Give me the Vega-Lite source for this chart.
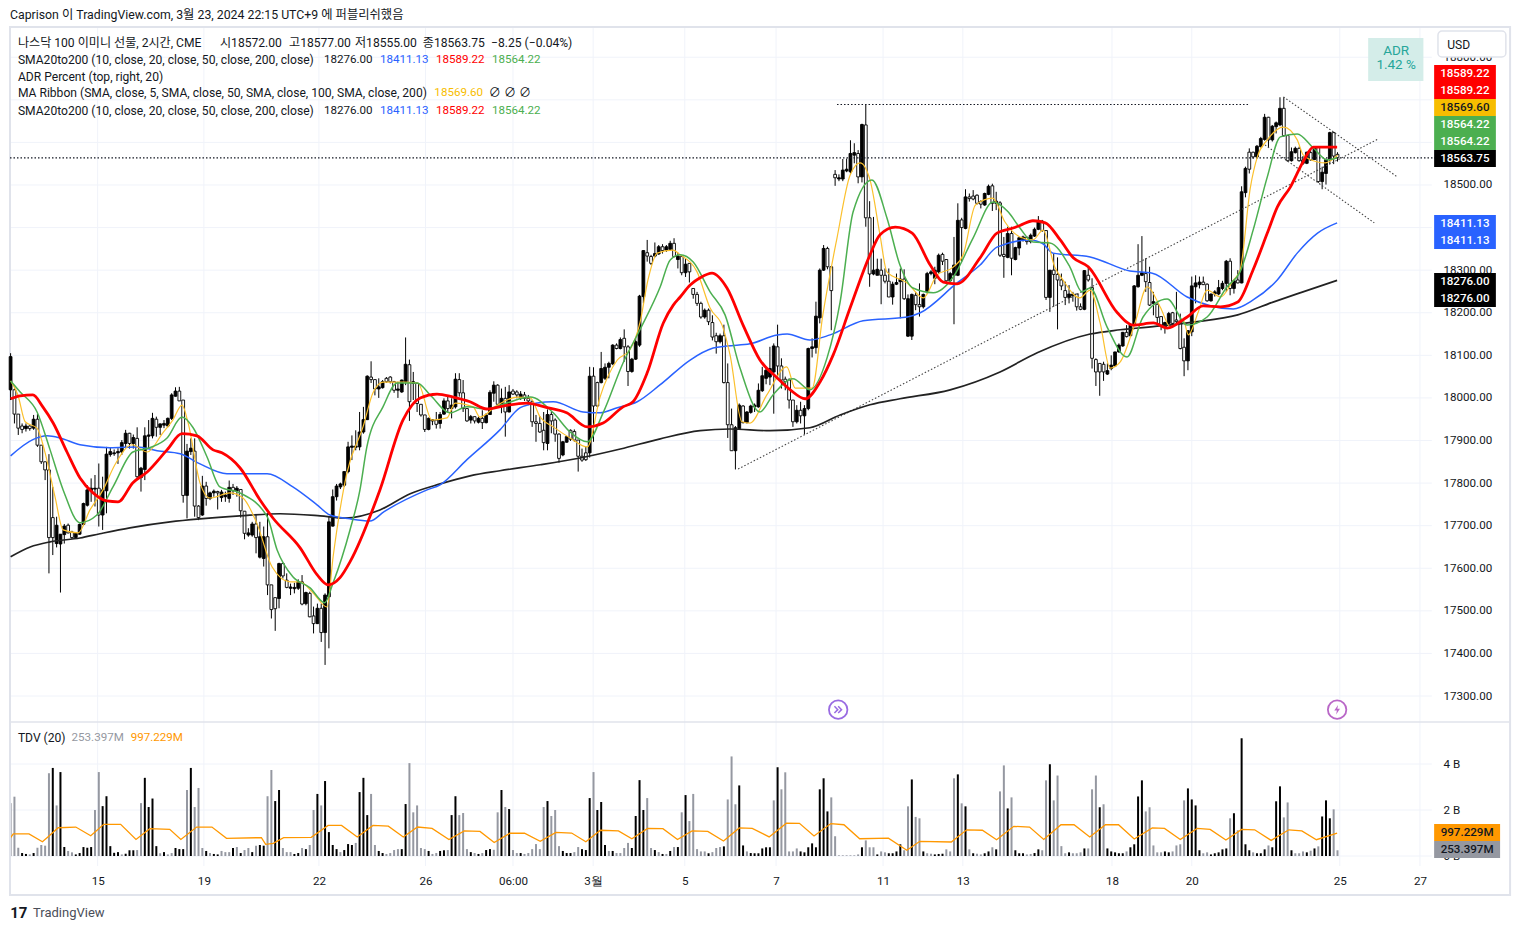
{"$schema":"https://vega.github.io/schema/vega-lite/v6.json","width":1520,"height":931,"autosize":{"type":"fit","contains":"padding"},"padding":0,"background":"#ffffff","config":{"view":{"stroke":null},"axis":{"title":null,"grid":false,"domain":false,"ticks":false}},
"datasets":{
"gridv":[{"n":22.7,"v":36,"v2":-0.435},{"n":50.4,"v":36,"v2":-0.435},{"n":80.4,"v":36,"v2":-0.435},{"n":108.2,"v":36,"v2":-0.435},{"n":131,"v":36,"v2":-0.435},{"n":151.9,"v":36,"v2":-0.435},{"n":175.8,"v":36,"v2":-0.435},{"n":199.6,"v":36,"v2":-0.435},{"n":227.5,"v":36,"v2":-0.435},{"n":248.3,"v":36,"v2":-0.435},{"n":287.2,"v":36,"v2":-0.435},{"n":308,"v":36,"v2":-0.435},{"n":346.6,"v":36,"v2":-0.435},{"n":367.5,"v":36,"v2":-0.435}],
"gridvol":[{"n":-0.16,"n2":370.6,"v":4},{"n":-0.16,"n2":370.6,"v":2},{"n":-0.16,"n2":370.6,"v":0}],
"gridp":[{"n":-0.16,"n2":370.6,"p":17300},{"n":-0.16,"n2":370.6,"p":17400},{"n":-0.16,"n2":370.6,"p":17500},{"n":-0.16,"n2":370.6,"p":17600},{"n":-0.16,"n2":370.6,"p":17700},{"n":-0.16,"n2":370.6,"p":17800},{"n":-0.16,"n2":370.6,"p":17900},{"n":-0.16,"n2":370.6,"p":18000},{"n":-0.16,"n2":370.6,"p":18100},{"n":-0.16,"n2":370.6,"p":18200},{"n":-0.16,"n2":370.6,"p":18300},{"n":-0.16,"n2":370.6,"p":18400},{"n":-0.16,"n2":370.6,"p":18500},{"n":-0.16,"n2":370.6,"p":18600},{"n":-0.16,"n2":370.6,"p":18700},{"n":-0.16,"n2":370.6,"p":18800}],
"vol":[{"n":0,"v":2.3,"u":0},{"n":1,"v":2.58,"u":0},{"n":2,"v":0.36,"u":0},{"n":3,"v":0.13,"u":1},{"n":4,"v":0.09,"u":1},{"n":5,"v":0.07,"u":0},{"n":6,"v":0.13,"u":1},{"n":7,"v":0.36,"u":0},{"n":8,"v":0.48,"u":0},{"n":9,"v":0.45,"u":0},{"n":10,"v":3.6,"u":0},{"n":11,"v":3.83,"u":1},{"n":12,"v":2.2,"u":0},{"n":13,"v":3.65,"u":1},{"n":14,"v":0.39,"u":1},{"n":15,"v":0.22,"u":0},{"n":16,"v":0.16,"u":0},{"n":17,"v":0.07,"u":1},{"n":18,"v":0.13,"u":1},{"n":19,"v":0.39,"u":1},{"n":20,"v":0.36,"u":1},{"n":21,"v":0.39,"u":1},{"n":22,"v":2,"u":0},{"n":23,"v":3.65,"u":0},{"n":24,"v":2.17,"u":1},{"n":25,"v":2.6,"u":1},{"n":26,"v":0.43,"u":1},{"n":27,"v":0.14,"u":1},{"n":28,"v":0.17,"u":1},{"n":29,"v":0.07,"u":0},{"n":30,"v":0.1,"u":1},{"n":31,"v":0.25,"u":1},{"n":32,"v":0.25,"u":1},{"n":33,"v":0.26,"u":0},{"n":34,"v":2.3,"u":0},{"n":35,"v":3.4,"u":1},{"n":36,"v":2.13,"u":1},{"n":37,"v":2.5,"u":1},{"n":38,"v":0.43,"u":1},{"n":39,"v":0.12,"u":0},{"n":40,"v":0.17,"u":1},{"n":41,"v":0.07,"u":0},{"n":42,"v":0.13,"u":0},{"n":43,"v":0.35,"u":1},{"n":44,"v":0.3,"u":1},{"n":45,"v":0.3,"u":1},{"n":46,"v":2.87,"u":0},{"n":47,"v":3.83,"u":1},{"n":48,"v":2.13,"u":0},{"n":49,"v":2.96,"u":0},{"n":50,"v":0.35,"u":0},{"n":51,"v":0.22,"u":1},{"n":52,"v":0.13,"u":0},{"n":53,"v":0.09,"u":1},{"n":54,"v":0.07,"u":1},{"n":55,"v":0.22,"u":0},{"n":56,"v":0.17,"u":0},{"n":57,"v":0.17,"u":0},{"n":58,"v":0.35,"u":1},{"n":59,"v":0.39,"u":0},{"n":60,"v":0.13,"u":1},{"n":61,"v":0.26,"u":0},{"n":62,"v":0.35,"u":0},{"n":63,"v":0.17,"u":1},{"n":64,"v":0.45,"u":0},{"n":65,"v":0.48,"u":1},{"n":66,"v":0.45,"u":1},{"n":67,"v":2.6,"u":0},{"n":68,"v":3.74,"u":0},{"n":69,"v":2.39,"u":1},{"n":70,"v":2.87,"u":1},{"n":71,"v":0.35,"u":0},{"n":72,"v":0.17,"u":0},{"n":73,"v":0.17,"u":0},{"n":74,"v":0.09,"u":1},{"n":75,"v":0.13,"u":1},{"n":76,"v":0.35,"u":0},{"n":77,"v":0.3,"u":1},{"n":78,"v":0.48,"u":0},{"n":79,"v":2,"u":0},{"n":80,"v":2.7,"u":1},{"n":81,"v":2.2,"u":0},{"n":82,"v":3.26,"u":1},{"n":83,"v":1.04,"u":1},{"n":84,"v":0.48,"u":1},{"n":85,"v":0.3,"u":1},{"n":86,"v":0.17,"u":0},{"n":87,"v":0.26,"u":1},{"n":88,"v":0.52,"u":1},{"n":89,"v":0.48,"u":1},{"n":90,"v":0.57,"u":0},{"n":91,"v":2.78,"u":1},{"n":92,"v":3.4,"u":1},{"n":93,"v":1.78,"u":1},{"n":94,"v":2.7,"u":0},{"n":95,"v":0.48,"u":0},{"n":96,"v":0.22,"u":1},{"n":97,"v":0.13,"u":1},{"n":98,"v":0.09,"u":0},{"n":99,"v":0.13,"u":0},{"n":100,"v":0.26,"u":0},{"n":101,"v":0.3,"u":0},{"n":102,"v":0.3,"u":1},{"n":103,"v":2.26,"u":1},{"n":104,"v":4.04,"u":0},{"n":105,"v":1.9,"u":0},{"n":106,"v":2.2,"u":0},{"n":107,"v":0.35,"u":0},{"n":108,"v":0.3,"u":0},{"n":109,"v":0.22,"u":1},{"n":110,"v":0.09,"u":0},{"n":111,"v":0.13,"u":0},{"n":112,"v":0.22,"u":1},{"n":113,"v":0.25,"u":1},{"n":114,"v":0.26,"u":0},{"n":115,"v":1.78,"u":1},{"n":116,"v":2.6,"u":1},{"n":117,"v":1.78,"u":0},{"n":118,"v":1.87,"u":0},{"n":119,"v":0.3,"u":0},{"n":120,"v":0.17,"u":1},{"n":121,"v":0.13,"u":0},{"n":122,"v":0.09,"u":1},{"n":123,"v":0.13,"u":0},{"n":124,"v":0.26,"u":1},{"n":125,"v":0.3,"u":1},{"n":126,"v":0.27,"u":0},{"n":127,"v":1.9,"u":0},{"n":128,"v":2.87,"u":1},{"n":129,"v":2.13,"u":0},{"n":130,"v":2.04,"u":1},{"n":131,"v":0.26,"u":0},{"n":132,"v":0.13,"u":0},{"n":133,"v":0.13,"u":1},{"n":134,"v":0.09,"u":0},{"n":135,"v":0.13,"u":0},{"n":136,"v":0.3,"u":0},{"n":137,"v":0.52,"u":0},{"n":138,"v":0.3,"u":0},{"n":139,"v":2.13,"u":0},{"n":140,"v":2.39,"u":1},{"n":141,"v":1.74,"u":0},{"n":142,"v":2,"u":0},{"n":143,"v":0.43,"u":0},{"n":144,"v":0.22,"u":1},{"n":145,"v":0.13,"u":1},{"n":146,"v":0.13,"u":1},{"n":147,"v":0.17,"u":0},{"n":148,"v":0.39,"u":0},{"n":149,"v":0.3,"u":1},{"n":150,"v":0.26,"u":1},{"n":151,"v":2.52,"u":1},{"n":152,"v":3.65,"u":0},{"n":153,"v":2,"u":1},{"n":154,"v":2.35,"u":1},{"n":155,"v":0.48,"u":1},{"n":156,"v":0.22,"u":0},{"n":157,"v":0.22,"u":1},{"n":158,"v":0.13,"u":0},{"n":159,"v":0.13,"u":0},{"n":160,"v":0.35,"u":0},{"n":161,"v":0.57,"u":0},{"n":162,"v":0.35,"u":1},{"n":163,"v":1.74,"u":1},{"n":164,"v":3.3,"u":1},{"n":165,"v":2,"u":1},{"n":166,"v":2.52,"u":0},{"n":167,"v":0.35,"u":0},{"n":168,"v":0.26,"u":1},{"n":169,"v":0.17,"u":0},{"n":170,"v":0.09,"u":1},{"n":171,"v":0.09,"u":0},{"n":172,"v":0.22,"u":1},{"n":173,"v":0.39,"u":0},{"n":174,"v":0.39,"u":1},{"n":175,"v":1.9,"u":0},{"n":176,"v":2.65,"u":1},{"n":177,"v":1.52,"u":0},{"n":178,"v":2.7,"u":0},{"n":179,"v":0.3,"u":0},
{"n":180,"v":0.2,"u":0},{"n":181,"v":0.2,"u":0},{"n":182,"v":0.12,"u":1},{"n":183,"v":0.17,"u":0},{"n":184,"v":0.35,"u":0},{"n":185,"v":0.39,"u":0},{"n":186,"v":0.42,"u":1},{"n":187,"v":2.46,"u":0},{"n":188,"v":4.33,"u":0},{"n":189,"v":2.25,"u":0},{"n":190,"v":3.07,"u":1},{"n":191,"v":0.46,"u":1},{"n":192,"v":0.2,"u":0},{"n":193,"v":0.13,"u":1},{"n":194,"v":0.12,"u":1},{"n":195,"v":0.12,"u":1},{"n":196,"v":0.33,"u":1},{"n":197,"v":0.38,"u":1},{"n":198,"v":0.38,"u":1},{"n":199,"v":2.42,"u":0},{"n":200,"v":3.86,"u":1},{"n":201,"v":2.9,"u":0},{"n":202,"v":3.64,"u":0},{"n":203,"v":0.2,"u":0},{"n":204,"v":0.2,"u":0},{"n":205,"v":0.33,"u":0},{"n":206,"v":0.2,"u":1},{"n":207,"v":0.16,"u":1},{"n":208,"v":0.38,"u":1},{"n":209,"v":0.55,"u":1},{"n":210,"v":0.38,"u":1},{"n":211,"v":2.9,"u":1},{"n":212,"v":3.38,"u":1},{"n":213,"v":1.94,"u":1},{"n":214,"v":2.55,"u":0},{"n":215,"v":0.86,"u":0},{"n":216,"v":0.03,"u":0},{"n":217,"v":0.03,"u":0},{"n":218,"v":0.03,"u":0},{"n":219,"v":0.03,"u":0},{"n":220,"v":0.03,"u":0},{"n":221,"v":0.07,"u":0},{"n":222,"v":0.38,"u":1},{"n":223,"v":0.68,"u":0},{"n":224,"v":0.38,"u":0},{"n":225,"v":0.38,"u":0},{"n":226,"v":0.07,"u":1},{"n":227,"v":0.2,"u":0},{"n":228,"v":0.16,"u":0},{"n":229,"v":0.12,"u":1},{"n":230,"v":0.12,"u":1},{"n":231,"v":0.2,"u":1},{"n":232,"v":0.51,"u":1},{"n":233,"v":0.25,"u":0},{"n":234,"v":2.16,"u":0},{"n":235,"v":3.33,"u":1},{"n":236,"v":1.7,"u":0},{"n":237,"v":1.64,"u":0},{"n":238,"v":0.2,"u":1},{"n":239,"v":0.12,"u":0},{"n":240,"v":0.1,"u":0},{"n":241,"v":0.07,"u":1},{"n":242,"v":0.09,"u":1},{"n":243,"v":0.1,"u":1},{"n":244,"v":0.29,"u":0},{"n":245,"v":0.2,"u":0},{"n":246,"v":3.38,"u":0},{"n":247,"v":3.55,"u":1},{"n":248,"v":2.29,"u":0},{"n":249,"v":2.16,"u":1},{"n":250,"v":0.29,"u":0},{"n":251,"v":0.12,"u":1},{"n":252,"v":0.1,"u":0},{"n":253,"v":0.07,"u":0},{"n":254,"v":0.12,"u":1},{"n":255,"v":0.2,"u":1},{"n":256,"v":0.38,"u":0},{"n":257,"v":0.29,"u":1},{"n":258,"v":2.81,"u":0},{"n":259,"v":3.94,"u":0},{"n":260,"v":2.07,"u":1},{"n":261,"v":2.55,"u":0},{"n":262,"v":0.25,"u":1},{"n":263,"v":0.12,"u":1},{"n":264,"v":0.12,"u":1},{"n":265,"v":0.07,"u":0},{"n":266,"v":0.09,"u":0},{"n":267,"v":0.13,"u":1},{"n":268,"v":0.29,"u":1},{"n":269,"v":0.25,"u":0},{"n":270,"v":3.29,"u":0},{"n":271,"v":3.99,"u":1},{"n":272,"v":2.42,"u":0},{"n":273,"v":3.5,"u":0},{"n":274,"v":0.43,"u":0},{"n":275,"v":0.12,"u":0},{"n":276,"v":0.16,"u":1},{"n":277,"v":0.12,"u":0},{"n":278,"v":0.12,"u":0},{"n":279,"v":0.16,"u":0},{"n":280,"v":0.33,"u":1},{"n":281,"v":0.33,"u":0},{"n":282,"v":2.9,"u":0},{"n":283,"v":3.5,"u":0},{"n":284,"v":2.12,"u":1},{"n":285,"v":2.25,"u":0},{"n":286,"v":0.33,"u":1},{"n":287,"v":0.2,"u":1},{"n":288,"v":0.16,"u":1},{"n":289,"v":0.12,"u":1},{"n":290,"v":0.12,"u":1},{"n":291,"v":0.2,"u":0},{"n":292,"v":0.38,"u":1},{"n":293,"v":0.51,"u":1},{"n":294,"v":2.59,"u":1},{"n":295,"v":3.29,"u":1},{"n":296,"v":1.94,"u":0},{"n":297,"v":2.12,"u":0},{"n":298,"v":0.46,"u":0},{"n":299,"v":0.16,"u":0},{"n":300,"v":0.16,"u":0},{"n":301,"v":0.2,"u":1},{"n":302,"v":0.16,"u":1},{"n":303,"v":0.2,"u":0},{"n":304,"v":0.46,"u":0},{"n":305,"v":0.51,"u":0},{"n":306,"v":2.42,"u":0},{"n":307,"v":2.94,"u":1},{"n":308,"v":2.46,"u":1},{"n":309,"v":2.2,"u":1},{"n":310,"v":0.25,"u":1},{"n":311,"v":0.12,"u":0},{"n":312,"v":0.16,"u":0},{"n":313,"v":0.07,"u":1},{"n":314,"v":0.12,"u":1},{"n":315,"v":0.16,"u":1},{"n":316,"v":0.29,"u":1},{"n":317,"v":0.33,"u":1},{"n":318,"v":1.64,"u":0},{"n":319,"v":1.86,"u":1},{"n":320,"v":1.12,"u":0},{"n":321,"v":5.12,"u":1},{"n":322,"v":0.51,"u":1},{"n":323,"v":0.25,"u":1},{"n":324,"v":0.16,"u":0},{"n":325,"v":0.12,"u":1},{"n":326,"v":0.12,"u":1},{"n":327,"v":0.29,"u":1},{"n":328,"v":0.46,"u":0},{"n":329,"v":0.38,"u":1},{"n":330,"v":2.38,"u":1},{"n":331,"v":3.03,"u":1},{"n":332,"v":1.68,"u":0},{"n":333,"v":2.33,"u":0},{"n":334,"v":0.25,"u":1},{"n":335,"v":0.12,"u":0},{"n":336,"v":0.12,"u":0},{"n":337,"v":0.2,"u":0},{"n":338,"v":0.16,"u":1},{"n":339,"v":0.23,"u":0},{"n":340,"v":0.33,"u":1},{"n":341,"v":0.42,"u":0},{"n":342,"v":1.72,"u":1},{"n":343,"v":2.42,"u":1},{"n":344,"v":1.64,"u":1},{"n":345,"v":2.03,"u":0},{"n":346,"v":0.25,"u":0}],
"volma":[{"n":0,"v":0.8},{"n":0.7,"v":0.96},{"n":4.8,"v":0.96},{"n":8.3,"v":0.62},{"n":9.8,"v":0.84},{"n":12.4,"v":1.23},{"n":17,"v":1.26},{"n":20.9,"v":0.88},{"n":24.3,"v":1.38},{"n":28.7,"v":1.38},{"n":32.7,"v":0.72},{"n":36.3,"v":1.19},{"n":41.5,"v":1.16},{"n":44.4,"v":0.72},{"n":48.5,"v":1.26},{"n":52.5,"v":1.26},{"n":56.3,"v":0.77},{"n":65.4,"v":0.8},{"n":66.5,"v":0.51},{"n":68.5,"v":0.55},{"n":71.2,"v":0.8},{"n":78.4,"v":0.81},{"n":82.8,"v":1.33},{"n":86.3,"v":1.33},{"n":90.4,"v":0.83},{"n":94.5,"v":1.33},{"n":98.5,"v":1.3},{"n":102.4,"v":0.83},{"n":106.1,"v":1.26},{"n":109.9,"v":1.2},{"n":114.3,"v":0.72},{"n":118.3,"v":1.09},{"n":122.4,"v":1.07},{"n":126.1,"v":0.59},{"n":130.2,"v":0.99},{"n":134,"v":0.99},{"n":138.1,"v":0.64},{"n":142.2,"v":1.03},{"n":146.3,"v":1},{"n":150,"v":0.62},{"n":153.8,"v":1.12},{"n":158.5,"v":1.09},{"n":162,"v":0.75},{"n":166.1,"v":1.2},{"n":170.1,"v":1.19},{"n":173.9,"v":0.72},{"n":177.7,"v":1.09},{"n":181.8,"v":1.07},{"n":185.9,"v":0.65},{"n":190,"v":1.22},{"n":193.4,"v":1.2},{"n":197.8,"v":0.83},{"n":202.3,"v":1.43},{"n":205.7,"v":1.42},{"n":209.5,"v":0.87},{"n":213.9,"v":1.41},{"n":217.3,"v":1.36},{"n":221.4,"v":0.75},{"n":228.9,"v":0.78},{"n":233.7,"v":0.25},{"n":237.1,"v":0.64},{"n":245.3,"v":0.61},{"n":249.3,"v":1.14},{"n":253.4,"v":1.12},{"n":257.1,"v":0.71},{"n":261.6,"v":1.29},{"n":265.7,"v":1.26},{"n":269.4,"v":0.72},{"n":273.9,"v":1.36},{"n":277.3,"v":1.36},{"n":281.4,"v":0.83},{"n":285.5,"v":1.36},{"n":288.9,"v":1.36},{"n":293,"v":0.74},{"n":297.7,"v":1.22},{"n":300.9,"v":1.2},{"n":305,"v":0.72},{"n":309.4,"v":1.2},{"n":312.8,"v":1.16},{"n":316.9,"v":0.7},{"n":321,"v":1.16},{"n":324.4,"v":1.14},{"n":328.7,"v":0.68},{"n":333.3,"v":1.14},{"n":336.7,"v":1.09},{"n":340.5,"v":0.71},{"n":345.9,"v":1}],
"candles":[{"n":0,"c":18097,"h":18105,"l":17995,"o":18019},{"n":1,"c":17962,"h":18022,"l":17940,"o":18019},{"n":2,"c":17929,"h":17962,"l":17913,"o":17962},{"n":3,"c":17926,"h":17940,"l":17917,"o":17934},{"n":4,"c":17934,"h":17940,"l":17921,"o":17928},{"n":5,"c":17928,"h":17936,"l":17923,"o":17934},{"n":6,"c":17950,"h":17960,"l":17925,"o":17929},{"n":7,"c":17889,"h":17962,"l":17885,"o":17950},{"n":8,"c":17850,"h":17889,"l":17845,"o":17889},{"n":9,"c":17831,"h":17850,"l":17807,"o":17850},{"n":10,"c":17672,"h":17868,"l":17588,"o":17831},{"n":11,"c":17672,"h":17791,"l":17631,"o":17719},{"n":12,"c":17701,"h":17721,"l":17649,"o":17658},{"n":13,"c":17680,"h":17680,"l":17543,"o":17657},{"n":14,"c":17699,"h":17704,"l":17658,"o":17679},{"n":15,"c":17683,"h":17705,"l":17682,"o":17701},{"n":16,"c":17672,"h":17688,"l":17669,"o":17685},{"n":17,"c":17682,"h":17683,"l":17671,"o":17672},{"n":18,"c":17703,"h":17705,"l":17679,"o":17680},{"n":19,"c":17752,"h":17754,"l":17701,"o":17703},{"n":20,"c":17784,"h":17795,"l":17745,"o":17748},{"n":21,"c":17788,"h":17811,"l":17756,"o":17782},{"n":22,"c":17788,"h":17819,"l":17745,"o":17786},{"n":23,"c":17725,"h":17846,"l":17698,"o":17788},{"n":24,"c":17784,"h":17815,"l":17690,"o":17725},{"n":25,"c":17868,"h":17885,"l":17729,"o":17782},{"n":26,"c":17874,"h":17884,"l":17862,"o":17867},{"n":27,"c":17871,"h":17879,"l":17864,"o":17869},{"n":28,"c":17874,"h":17882,"l":17845,"o":17871},{"n":29,"c":17895,"h":17901,"l":17866,"o":17873},{"n":30,"c":17917,"h":17925,"l":17884,"o":17893},{"n":31,"c":17893,"h":17918,"l":17881,"o":17917},{"n":32,"c":17907,"h":17914,"l":17881,"o":17893},{"n":33,"c":17815,"h":17931,"l":17811,"o":17905},{"n":34,"c":17835,"h":17838,"l":17780,"o":17813},{"n":35,"c":17911,"h":17931,"l":17807,"o":17832},{"n":36,"c":17913,"h":17948,"l":17882,"o":17910},{"n":37,"c":17952,"h":17965,"l":17905,"o":17911},{"n":38,"c":17931,"h":17956,"l":17909,"o":17950},{"n":39,"c":17939,"h":17940,"l":17913,"o":17931},{"n":40,"c":17940,"h":17948,"l":17929,"o":17936},{"n":41,"c":17952,"h":17954,"l":17931,"o":17934},{"n":42,"c":18007,"h":18011,"l":17948,"o":17952},{"n":43,"c":18016,"h":18025,"l":18003,"o":18004},{"n":44,"c":17993,"h":18026,"l":17993,"o":18016},{"n":45,"c":17771,"h":17995,"l":17754,"o":17995},{"n":46,"c":17875,"h":17892,"l":17717,"o":17771},{"n":47,"c":17882,"h":17905,"l":17866,"o":17874},{"n":48,"c":17746,"h":17905,"l":17721,"o":17875},{"n":49,"c":17719,"h":17748,"l":17713,"o":17746},{"n":50,"c":17793,"h":17817,"l":17723,"o":17725},{"n":51,"c":17764,"h":17803,"l":17747,"o":17793},{"n":52,"c":17777,"h":17780,"l":17760,"o":17764},{"n":53,"c":17781,"h":17785,"l":17768,"o":17777},{"n":54,"c":17777,"h":17782,"l":17738,"o":17780},{"n":55,"c":17779,"h":17784,"l":17756,"o":17766},{"n":56,"c":17772,"h":17780,"l":17756,"o":17768},{"n":57,"c":17790,"h":17806,"l":17754,"o":17764},{"n":58,"c":17782,"h":17798,"l":17772,"o":17790},{"n":59,"c":17788,"h":17793,"l":17768,"o":17782},{"n":60,"c":17735,"h":17785,"l":17719,"o":17785},{"n":61,"c":17682,"h":17734,"l":17668,"o":17734},{"n":62,"c":17683,"h":17694,"l":17674,"o":17678},{"n":63,"c":17704,"h":17709,"l":17674,"o":17678},{"n":64,"c":17672,"h":17725,"l":17635,"o":17704},{"n":65,"c":17674,"h":17709,"l":17623,"o":17626},{"n":66,"c":17674,"h":17698,"l":17604,"o":17623},{"n":67,"c":17561,"h":17729,"l":17537,"o":17674},{"n":68,"c":17503,"h":17561,"l":17482,"o":17561},{"n":69,"c":17505,"h":17531,"l":17453,"o":17531},{"n":70,"c":17611,"h":17613,"l":17506,"o":17529},{"n":71,"c":17582,"h":17613,"l":17576,"o":17611},{"n":72,"c":17555,"h":17588,"l":17553,"o":17572},{"n":73,"c":17556,"h":17564,"l":17537,"o":17553},{"n":74,"c":17555,"h":17566,"l":17541,"o":17552},{"n":75,"c":17568,"h":17574,"l":17549,"o":17553},{"n":76,"c":17516,"h":17584,"l":17513,"o":17568},{"n":77,"c":17543,"h":17545,"l":17513,"o":17517},{"n":78,"c":17486,"h":17545,"l":17485,"o":17541},{"n":79,"c":17470,"h":17510,"l":17447,"o":17488},{"n":80,"c":17506,"h":17517,"l":17469,"o":17470},{"n":81,"c":17449,"h":17517,"l":17427,"o":17506},{"n":82,"c":17537,"h":17541,"l":17373,"o":17449},{"n":83,"c":17709,"h":17721,"l":17412,"o":17533},{"n":84,"c":17768,"h":17785,"l":17698,"o":17699},{"n":85,"c":17793,"h":17798,"l":17759,"o":17768},{"n":86,"c":17798,"h":17801,"l":17786,"o":17791},{"n":87,"c":17827,"h":17828,"l":17791,"o":17795},{"n":88,"c":17885,"h":17897,"l":17823,"o":17827},
{"n":89,"c":17887,"h":17912,"l":17854,"o":17884},{"n":90,"c":17887,"h":17924,"l":17877,"o":17884},{"n":91,"c":17920,"h":17967,"l":17877,"o":17885},{"n":92,"c":17949,"h":17979,"l":17916,"o":17920},{"n":93,"c":18051,"h":18053,"l":17948,"o":17949},{"n":94,"c":18043,"h":18086,"l":18035,"o":18049},{"n":95,"c":18021,"h":18043,"l":18006,"o":18043},{"n":96,"c":18026,"h":18046,"l":18000,"o":18021},{"n":97,"c":18038,"h":18042,"l":18022,"o":18024},{"n":98,"c":18038,"h":18049,"l":18035,"o":18046},{"n":99,"c":18038,"h":18051,"l":18034,"o":18049},{"n":100,"c":18018,"h":18040,"l":18012,"o":18038},{"n":101,"c":18021,"h":18038,"l":18000,"o":18018},{"n":102,"c":18042,"h":18043,"l":18012,"o":18014},{"n":103,"c":18079,"h":18142,"l":18030,"o":18038},{"n":104,"c":17991,"h":18090,"l":17946,"o":18078},{"n":105,"c":18038,"h":18061,"l":17995,"o":18034},{"n":106,"c":17987,"h":18036,"l":17967,"o":18034},{"n":107,"c":17960,"h":17985,"l":17956,"o":17985},{"n":108,"c":17926,"h":17960,"l":17920,"o":17960},{"n":109,"c":17952,"h":17954,"l":17924,"o":17926},{"n":110,"c":17949,"h":17949,"l":17936,"o":17946},{"n":111,"c":17938,"h":17967,"l":17928,"o":17948},{"n":112,"c":17961,"h":17967,"l":17928,"o":17940},{"n":113,"c":17993,"h":17999,"l":17960,"o":17962},{"n":114,"c":17975,"h":18004,"l":17967,"o":17993},{"n":115,"c":17983,"h":17999,"l":17952,"o":17975},{"n":116,"c":18044,"h":18058,"l":17975,"o":17979},{"n":117,"c":18012,"h":18058,"l":18003,"o":18043},{"n":118,"c":17975,"h":18042,"l":17967,"o":18012},{"n":119,"c":17946,"h":17975,"l":17944,"o":17975},{"n":120,"c":17956,"h":17960,"l":17940,"o":17948},{"n":121,"c":17946,"h":17956,"l":17940,"o":17956},{"n":122,"c":17952,"h":17956,"l":17940,"o":17943},{"n":123,"c":17942,"h":17971,"l":17927,"o":17952},{"n":124,"c":17960,"h":17964,"l":17940,"o":17942},{"n":125,"c":18013,"h":18018,"l":17960,"o":17961},{"n":126,"c":18030,"h":18039,"l":17991,"o":18011},{"n":127,"c":17985,"h":18032,"l":17983,"o":18030},{"n":128,"c":17999,"h":18022,"l":17964,"o":17985},{"n":129,"c":17967,"h":18026,"l":17909,"o":17999},{"n":130,"c":18014,"h":18030,"l":17966,"o":17967},{"n":131,"c":18009,"h":18021,"l":18007,"o":18016},{"n":132,"c":18007,"h":18018,"l":17999,"o":18014},{"n":133,"c":18009,"h":18016,"l":17995,"o":17999},{"n":134,"c":17999,"h":18014,"l":17993,"o":18007},{"n":135,"c":17993,"h":18007,"l":17983,"o":17999},{"n":136,"c":17944,"h":17995,"l":17932,"o":17991},{"n":137,"c":17940,"h":17960,"l":17897,"o":17944},{"n":138,"c":17920,"h":17957,"l":17918,"o":17940},{"n":139,"c":17895,"h":17967,"l":17877,"o":17924},{"n":140,"c":17961,"h":17973,"l":17877,"o":17893},{"n":141,"c":17946,"h":17967,"l":17917,"o":17961},{"n":142,"c":17915,"h":17952,"l":17897,"o":17948},{"n":143,"c":17858,"h":17917,"l":17848,"o":17915},{"n":144,"c":17897,"h":17899,"l":17863,"o":17866},{"n":145,"c":17909,"h":17910,"l":17895,"o":17896},{"n":146,"c":17903,"h":17926,"l":17899,"o":17924},{"n":147,"c":17901,"h":17926,"l":17897,"o":17921},{"n":148,"c":17863,"h":17901,"l":17827,"o":17901},{"n":149,"c":17854,"h":17881,"l":17850,"o":17863},{"n":150,"c":17855,"h":17885,"l":17852,"o":17871},{"n":151,"c":18051,"h":18073,"l":17860,"o":17871},{"n":152,"c":17981,"h":18072,"l":17897,"o":18051},{"n":153,"c":17981,"h":18038,"l":17979,"o":18036},{"n":154,"c":18069,"h":18108,"l":18034,"o":18036},{"n":155,"c":18072,"h":18081,"l":18042,"o":18046},{"n":156,"c":18081,"h":18085,"l":18046,"o":18072},{"n":157,"c":18124,"h":18126,"l":18077,"o":18080},{"n":158,"c":18116,"h":18128,"l":18114,"o":18124},{"n":159,"c":18137,"h":18142,"l":18114,"o":18116},{"n":160,"c":18120,"h":18161,"l":18085,"o":18140},{"n":161,"c":18062,"h":18124,"l":18028,"o":18120},{"n":162,"c":18091,"h":18094,"l":18059,"o":18062},{"n":163,"c":18132,"h":18142,"l":18089,"o":18091},{"n":164,"c":18239,"h":18242,"l":18120,"o":18124},{"n":165,"c":18346,"h":18347,"l":18222,"o":18238},{"n":166,"c":18333,"h":18371,"l":18320,"o":18341},{"n":167,"c":18316,"h":18336,"l":18312,"o":18332},{"n":168,"c":18339,"h":18365,"l":18330,"o":18333},{"n":169,"c":18355,"h":18359,"l":18336,"o":18338},{"n":170,"c":18346,"h":18361,"l":18339,"o":18355},{"n":171,"c":18355,"h":18359,"l":18343,"o":18347},{"n":172,"c":18363,"h":18369,"l":18347,"o":18349},{"n":173,"c":18332,"h":18375,"l":18330,"o":18363},{"n":174,"c":18333,"h":18341,"l":18304,"o":18325},{"n":175,"c":18294,"h":18332,"l":18288,"o":18332},{"n":176,"c":18314,"h":18328,"l":18284,"o":18294},{"n":177,"c":18296,"h":18316,"l":18271,"o":18316},
{"n":178,"c":18243,"h":18257,"l":18233,"o":18257},{"n":179,"c":18222,"h":18249,"l":18216,"o":18243},{"n":180,"c":18190,"h":18226,"l":18186,"o":18222},{"n":181,"c":18206,"h":18210,"l":18186,"o":18190},{"n":182,"c":18179,"h":18210,"l":18171,"o":18206},{"n":183,"c":18143,"h":18194,"l":18135,"o":18177},{"n":184,"c":18132,"h":18153,"l":18104,"o":18146},{"n":185,"c":18146,"h":18151,"l":18128,"o":18132},{"n":186,"c":18036,"h":18172,"l":18034,"o":18146},{"n":187,"c":17937,"h":18081,"l":17906,"o":18036},{"n":188,"c":17876,"h":17975,"l":17876,"o":17937},{"n":189,"c":17930,"h":17934,"l":17832,"o":17876},{"n":190,"c":17983,"h":17987,"l":17927,"o":17928},{"n":191,"c":17942,"h":17983,"l":17940,"o":17981},{"n":192,"c":17967,"h":17969,"l":17940,"o":17942},{"n":193,"c":17981,"h":17984,"l":17963,"o":17966},{"n":194,"c":17983,"h":17987,"l":17967,"o":17979},{"n":195,"c":18018,"h":18034,"l":17977,"o":17979},{"n":196,"c":18052,"h":18073,"l":18014,"o":18017},{"n":197,"c":18065,"h":18073,"l":18032,"o":18046},{"n":198,"c":18069,"h":18120,"l":18030,"o":18049},{"n":199,"c":18122,"h":18128,"l":17963,"o":18061},{"n":200,"c":18075,"h":18172,"l":18046,"o":18120},{"n":201,"c":18042,"h":18093,"l":18022,"o":18075},{"n":202,"c":18038,"h":18050,"l":18018,"o":18044},{"n":203,"c":17995,"h":18046,"l":17975,"o":18042},{"n":204,"c":17944,"h":17995,"l":17932,"o":17995},{"n":205,"c":17971,"h":17983,"l":17940,"o":17944},{"n":206,"c":17958,"h":17991,"l":17940,"o":17971},{"n":207,"c":17975,"h":17983,"l":17914,"o":17958},{"n":208,"c":18116,"h":18118,"l":17971,"o":17975},{"n":209,"c":18120,"h":18140,"l":18095,"o":18116},{"n":210,"c":18192,"h":18226,"l":18104,"o":18118},{"n":211,"c":18300,"h":18304,"l":18175,"o":18188},{"n":212,"c":18351,"h":18359,"l":18298,"o":18300},{"n":213,"c":18308,"h":18355,"l":18302,"o":18351},{"n":214,"c":18252,"h":18308,"l":18159,"o":18308},{"n":215,"c":18517,"h":18535,"l":18498,"o":18525},{"n":216,"c":18517,"h":18525,"l":18509,"o":18514},{"n":217,"c":18535,"h":18561,"l":18509,"o":18514},{"n":218,"c":18537,"h":18562,"l":18530,"o":18533},{"n":219,"c":18574,"h":18605,"l":18527,"o":18531},{"n":220,"c":18576,"h":18598,"l":18551,"o":18570},{"n":221,"c":18519,"h":18582,"l":18504,"o":18574},{"n":222,"c":18642,"h":18644,"l":18506,"o":18519},{"n":223,"c":18423,"h":18689,"l":18402,"o":18641},{"n":224,"c":18291,"h":18462,"l":18261,"o":18423},{"n":225,"c":18300,"h":18425,"l":18288,"o":18291},{"n":226,"c":18302,"h":18327,"l":18288,"o":18288},{"n":227,"c":18288,"h":18327,"l":18220,"o":18300},{"n":228,"c":18274,"h":18304,"l":18269,"o":18288},{"n":229,"c":18237,"h":18304,"l":18237,"o":18274},{"n":230,"c":18267,"h":18273,"l":18219,"o":18237},{"n":231,"c":18271,"h":18292,"l":18265,"o":18267},{"n":232,"c":18279,"h":18304,"l":18187,"o":18273},{"n":233,"c":18233,"h":18302,"l":18230,"o":18279},{"n":234,"c":18233,"h":18243,"l":18143,"o":18145},{"n":235,"c":18243,"h":18245,"l":18136,"o":18145},{"n":236,"c":18219,"h":18249,"l":18206,"o":18241},{"n":237,"c":18214,"h":18269,"l":18191,"o":18219},{"n":238,"c":18243,"h":18245,"l":18210,"o":18214},{"n":239,"c":18292,"h":18296,"l":18245,"o":18249},{"n":240,"c":18296,"h":18300,"l":18288,"o":18292},{"n":241,"c":18300,"h":18308,"l":18267,"o":18281},{"n":242,"c":18335,"h":18339,"l":18292,"o":18296},{"n":243,"c":18321,"h":18341,"l":18312,"o":18337},{"n":244,"c":18275,"h":18326,"l":18273,"o":18325},{"n":245,"c":18292,"h":18296,"l":18273,"o":18275},{"n":246,"c":18312,"h":18378,"l":18173,"o":18288},{"n":247,"c":18417,"h":18457,"l":18286,"o":18288},{"n":248,"c":18400,"h":18423,"l":18320,"o":18418},{"n":249,"c":18472,"h":18490,"l":18396,"o":18398},{"n":250,"c":18468,"h":18480,"l":18461,"o":18472},{"n":251,"c":18467,"h":18488,"l":18464,"o":18474},{"n":252,"c":18457,"h":18478,"l":18454,"o":18476},{"n":253,"c":18455,"h":18464,"l":18445,"o":18461},{"n":254,"c":18480,"h":18482,"l":18451,"o":18453},{"n":255,"c":18497,"h":18501,"l":18476,"o":18478},{"n":256,"c":18457,"h":18503,"l":18439,"o":18498},{"n":257,"c":18462,"h":18484,"l":18441,"o":18457},{"n":258,"c":18335,"h":18462,"l":18331,"o":18458},{"n":259,"c":18332,"h":18378,"l":18282,"o":18337},{"n":260,"c":18386,"h":18402,"l":18328,"o":18330},{"n":261,"c":18328,"h":18402,"l":18288,"o":18386},{"n":262,"c":18353,"h":18355,"l":18323,"o":18325},{"n":263,"c":18376,"h":18378,"l":18335,"o":18352},{"n":264,"c":18378,"h":18381,"l":18367,"o":18371},{"n":265,"c":18367,"h":18379,"l":18360,"o":18377},
{"n":266,"c":18382,"h":18386,"l":18363,"o":18367},{"n":267,"c":18396,"h":18400,"l":18378,"o":18380},{"n":268,"c":18415,"h":18427,"l":18394,"o":18396},{"n":269,"c":18393,"h":18418,"l":18390,"o":18415},{"n":270,"c":18236,"h":18394,"l":18230,"o":18393},{"n":271,"c":18300,"h":18300,"l":18202,"o":18236},{"n":272,"c":18290,"h":18339,"l":18214,"o":18300},{"n":273,"c":18277,"h":18330,"l":18161,"o":18290},{"n":274,"c":18263,"h":18292,"l":18253,"o":18277},{"n":275,"c":18236,"h":18273,"l":18218,"o":18252},{"n":276,"c":18244,"h":18265,"l":18222,"o":18236},{"n":277,"c":18244,"h":18249,"l":18226,"o":18240},{"n":278,"c":18214,"h":18244,"l":18205,"o":18244},{"n":279,"c":18208,"h":18222,"l":18206,"o":18214},{"n":280,"c":18299,"h":18300,"l":18206,"o":18208},{"n":281,"c":18277,"h":18308,"l":18273,"o":18288},{"n":282,"c":18093,"h":18281,"l":18069,"o":18259},{"n":283,"c":18061,"h":18093,"l":18028,"o":18090},{"n":284,"c":18061,"h":18081,"l":18005,"o":18081},{"n":285,"c":18061,"h":18085,"l":18040,"o":18079},{"n":286,"c":18064,"h":18081,"l":18054,"o":18056},{"n":287,"c":18077,"h":18100,"l":18065,"o":18069},{"n":288,"c":18108,"h":18108,"l":18073,"o":18075},{"n":289,"c":18124,"h":18128,"l":18106,"o":18108},{"n":290,"c":18154,"h":18155,"l":18120,"o":18122},{"n":291,"c":18144,"h":18171,"l":18142,"o":18154},{"n":292,"c":18171,"h":18175,"l":18144,"o":18146},{"n":293,"c":18263,"h":18265,"l":18169,"o":18171},{"n":294,"c":18288,"h":18361,"l":18259,"o":18261},{"n":295,"c":18294,"h":18380,"l":18286,"o":18288},{"n":296,"c":18273,"h":18328,"l":18249,"o":18292},{"n":297,"c":18218,"h":18308,"l":18216,"o":18271},{"n":298,"c":18226,"h":18249,"l":18194,"o":18222},{"n":299,"c":18189,"h":18222,"l":18175,"o":18220},{"n":300,"c":18171,"h":18191,"l":18159,"o":18191},{"n":301,"c":18177,"h":18179,"l":18151,"o":18165},{"n":302,"c":18198,"h":18202,"l":18173,"o":18175},{"n":303,"c":18175,"h":18202,"l":18171,"o":18200},{"n":304,"c":18179,"h":18249,"l":18175,"o":18183},{"n":305,"c":18116,"h":18198,"l":18114,"o":18180},{"n":306,"c":18087,"h":18140,"l":18051,"o":18119},{"n":307,"c":18158,"h":18159,"l":18065,"o":18087},{"n":308,"c":18263,"h":18285,"l":18145,"o":18155},{"n":309,"c":18270,"h":18288,"l":18222,"o":18261},{"n":310,"c":18272,"h":18285,"l":18257,"o":18266},{"n":311,"c":18266,"h":18285,"l":18265,"o":18272},{"n":312,"c":18228,"h":18269,"l":18226,"o":18267},{"n":313,"c":18244,"h":18245,"l":18226,"o":18228},{"n":314,"c":18249,"h":18253,"l":18238,"o":18244},{"n":315,"c":18259,"h":18277,"l":18241,"o":18244},{"n":316,"c":18269,"h":18275,"l":18253,"o":18257},{"n":317,"c":18321,"h":18324,"l":18249,"o":18269},{"n":318,"c":18257,"h":18328,"l":18241,"o":18321},{"n":319,"c":18275,"h":18277,"l":18245,"o":18257},{"n":320,"c":18270,"h":18300,"l":18269,"o":18277},{"n":321,"c":18484,"h":18497,"l":18269,"o":18270},{"n":322,"c":18539,"h":18543,"l":18471,"o":18482},{"n":323,"c":18537,"h":18586,"l":18527,"o":18577},{"n":324,"c":18566,"h":18578,"l":18562,"o":18577},{"n":325,"c":18591,"h":18594,"l":18562,"o":18566},{"n":326,"c":18609,"h":18613,"l":18588,"o":18590},{"n":327,"c":18659,"h":18667,"l":18604,"o":18607},{"n":328,"c":18606,"h":18660,"l":18588,"o":18659},{"n":329,"c":18638,"h":18641,"l":18602,"o":18606},{"n":330,"c":18646,"h":18649,"l":18621,"o":18637},{"n":331,"c":18680,"h":18706,"l":18638,"o":18641},{"n":332,"c":18616,"h":18706,"l":18613,"o":18680},{"n":333,"c":18557,"h":18617,"l":18555,"o":18616},{"n":334,"c":18578,"h":18588,"l":18555,"o":18557},{"n":335,"c":18586,"h":18590,"l":18574,"o":18576},{"n":336,"c":18557,"h":18590,"l":18555,"o":18586},{"n":337,"c":18551,"h":18568,"l":18547,"o":18559},{"n":338,"c":18577,"h":18578,"l":18549,"o":18551},{"n":339,"c":18559,"h":18582,"l":18557,"o":18576},{"n":340,"c":18590,"h":18591,"l":18559,"o":18560},{"n":341,"c":18508,"h":18590,"l":18505,"o":18588},{"n":342,"c":18530,"h":18543,"l":18490,"o":18508},{"n":343,"c":18560,"h":18562,"l":18501,"o":18527},{"n":344,"c":18623,"h":18625,"l":18549,"o":18559},{"n":345,"c":18568,"h":18625,"l":18549,"o":18623},{"n":346,"o":18572,"h":18577,"l":18555,"c":18563.75}],
"ma":[{"s":"MA5","n":0,"p":18040},{"s":"MA5","n":1.9,"p":18007},{"s":"MA5","n":3.8,"p":17944},{"s":"MA5","n":6.9,"p":17929},{"s":"MA5","n":9,"p":17871},{"s":"MA5","n":11.6,"p":17767},{"s":"MA5","n":13.7,"p":17690},{"s":"MA5","n":17.6,"p":17683},{"s":"MA5","n":20.7,"p":17737},{"s":"MA5","n":24.1,"p":17784},{"s":"MA5","n":27.2,"p":17843},{"s":"MA5","n":31.7,"p":17890},{"s":"MA5","n":35.6,"p":17873},{"s":"MA5","n":39.7,"p":17918},{"s":"MA5","n":42.3,"p":17948},{"s":"MA5","n":44.7,"p":17983},{"s":"MA5","n":46.3,"p":17941},{"s":"MA5","n":49.4,"p":17800},{"s":"MA5","n":52,"p":17765},{"s":"MA5","n":57.2,"p":17777},{"s":"MA5","n":60.6,"p":17765},{"s":"MA5","n":64.2,"p":17706},{"s":"MA5","n":68.2,"p":17603},{"s":"MA5","n":72.9,"p":17568},{"s":"MA5","n":75.5,"p":17568},{"s":"MA5","n":78.9,"p":17542},{"s":"MA5","n":82.5,"p":17509},{"s":"MA5","n":84.1,"p":17627},{"s":"MA5","n":87.7,"p":17824},{"s":"MA5","n":91.9,"p":17932},{"s":"MA5","n":94.5,"p":18012},{"s":"MA5","n":97.1,"p":18037},{"s":"MA5","n":102.3,"p":18037},{"s":"MA5","n":106.2,"p":18035},{"s":"MA5","n":109.9,"p":17948},{"s":"MA5","n":113.8,"p":17953},{"s":"MA5","n":115.9,"p":17988},{"s":"MA5","n":120.6,"p":17979},{"s":"MA5","n":122.4,"p":17955},{"s":"MA5","n":126.9,"p":17983},{"s":"MA5","n":132.1,"p":18002},{"s":"MA5","n":135.5,"p":18000},{"s":"MA5","n":138.1,"p":17955},{"s":"MA5","n":141.5,"p":17932},{"s":"MA5","n":145.9,"p":17906},{"s":"MA5","n":150.4,"p":17885},{"s":"MA5","n":153.7,"p":18002},{"s":"MA5","n":158.2,"p":18089},{"s":"MA5","n":161.5,"p":18113},{"s":"MA5","n":164.1,"p":18176},{"s":"MA5","n":166.2,"p":18277},{"s":"MA5","n":168.6,"p":18340},{"s":"MA5","n":172.7,"p":18347},{"s":"MA5","n":174.6,"p":18336},{"s":"MA5","n":179,"p":18296},{"s":"MA5","n":182.4,"p":18211},{"s":"MA5","n":185.8,"p":18164},{"s":"MA5","n":187.6,"p":18101},{"s":"MA5","n":190.7,"p":17944},{"s":"MA5","n":192.8,"p":17941},{"s":"MA5","n":197.2,"p":18007},{"s":"MA5","n":202.4,"p":18073},{"s":"MA5","n":204.6,"p":18023},{"s":"MA5","n":209,"p":18023},{"s":"MA5","n":211.8,"p":18195},{"s":"MA5","n":215.5,"p":18376},{"s":"MA5","n":218.9,"p":18523},{"s":"MA5","n":221.5,"p":18552},{"s":"MA5","n":224.1,"p":18512},{"s":"MA5","n":226.7,"p":18383},{"s":"MA5","n":228.5,"p":18296},{"s":"MA5","n":233.8,"p":18270},{"s":"MA5","n":238,"p":18235},{"s":"MA5","n":241.6,"p":18289},{"s":"MA5","n":245.8,"p":18307},{"s":"MA5","n":248.4,"p":18336},{"s":"MA5","n":251.6,"p":18453},{"s":"MA5","n":256.1,"p":18469},{"s":"MA5","n":259.3,"p":18413},{"s":"MA5","n":263.2,"p":18378},{"s":"MA5","n":266.6,"p":18371},{"s":"MA5","n":269.2,"p":18394},{"s":"MA5","n":272.3,"p":18307},{"s":"MA5","n":274.4,"p":18277},{"s":"MA5","n":278.8,"p":18235},{"s":"MA5","n":281.5,"p":18253},{"s":"MA5","n":284.1,"p":18176},{"s":"MA5","n":286.7,"p":18070},{"s":"MA5","n":289.3,"p":18084},{"s":"MA5","n":293.2,"p":18176},{"s":"MA5","n":296.4,"p":18261},{"s":"MA5","n":299.8,"p":18213},{"s":"MA5","n":302.4,"p":18167},{"s":"MA5","n":305.8,"p":18183},{"s":"MA5","n":307.1,"p":18148},{"s":"MA5","n":309.7,"p":18202},{"s":"MA5","n":312,"p":18253},{"s":"MA5","n":315.5,"p":18237},{"s":"MA5","n":318.9,"p":18277},{"s":"MA5","n":320.6,"p":18300},{"s":"MA5","n":323.3,"p":18495},{"s":"MA5","n":325.1,"p":18566},{"s":"MA5","n":327.7,"p":18606},{"s":"MA5","n":331.9,"p":18636},{"s":"MA5","n":335.5,"p":18606},{"s":"MA5","n":337.1,"p":18570},{"s":"MA5","n":340.8,"p":18554},{"s":"MA5","n":342.9,"p":18552},{"s":"MA5","n":346,"p":18570},
{"s":"MA10","n":0,"p":18040},{"s":"MA10","n":2.5,"p":18014},{"s":"MA10","n":6.9,"p":17967},{"s":"MA10","n":10.3,"p":17878},{"s":"MA10","n":13.7,"p":17784},{"s":"MA10","n":18.1,"p":17707},{"s":"MA10","n":22.5,"p":17725},{"s":"MA10","n":26.7,"p":17791},{"s":"MA10","n":31.9,"p":17873},{"s":"MA10","n":36.3,"p":17883},{"s":"MA10","n":40.8,"p":17906},{"s":"MA10","n":44.7,"p":17955},{"s":"MA10","n":47.6,"p":17930},{"s":"MA10","n":51.2,"p":17862},{"s":"MA10","n":54.6,"p":17791},{"s":"MA10","n":59.8,"p":17777},{"s":"MA10","n":66.9,"p":17721},{"s":"MA10","n":69.5,"p":17643},{"s":"MA10","n":73.6,"p":17580},{"s":"MA10","n":78.1,"p":17554},{"s":"MA10","n":81.9,"p":17519},{"s":"MA10","n":84.1,"p":17566},{"s":"MA10","n":88.5,"p":17690},{"s":"MA10","n":91.1,"p":17784},{"s":"MA10","n":92.9,"p":17885},{"s":"MA10","n":97.1,"p":17979},{"s":"MA10","n":100.8,"p":18035},{"s":"MA10","n":106,"p":18035},{"s":"MA10","n":109.4,"p":18007},{"s":"MA10","n":114.6,"p":17965},{"s":"MA10","n":119,"p":17979},{"s":"MA10","n":124.2,"p":17974},{"s":"MA10","n":129.4,"p":17988},{"s":"MA10","n":135.5,"p":18002},{"s":"MA10","n":141.5,"p":17965},{"s":"MA10","n":145.9,"p":17920},{"s":"MA10","n":150.4,"p":17897},{"s":"MA10","n":154.5,"p":17965},{"s":"MA10","n":159.7,"p":18082},{"s":"MA10","n":164.1,"p":18160},{"s":"MA10","n":169.4,"p":18261},{"s":"MA10","n":172,"p":18324},{"s":"MA10","n":174.6,"p":18336},{"s":"MA10","n":178,"p":18319},{"s":"MA10","n":182.4,"p":18249},{"s":"MA10","n":186.3,"p":18195},{"s":"MA10","n":190.2,"p":18070},{"s":"MA10","n":195.4,"p":17967},{"s":"MA10","n":198.8,"p":18007},{"s":"MA10","n":204,"p":18045},{"s":"MA10","n":208.4,"p":18019},{"s":"MA10","n":212.9,"p":18094},{"s":"MA10","n":216.3,"p":18225},{"s":"MA10","n":219.7,"p":18437},{"s":"MA10","n":224.6,"p":18512},{"s":"MA10","n":228.5,"p":18423},{"s":"MA10","n":231.9,"p":18312},{"s":"MA10","n":235.3,"p":18258},{"s":"MA10","n":240.6,"p":18247},{"s":"MA10","n":245.8,"p":18284},{"s":"MA10","n":251,"p":18376},{"s":"MA10","n":256.2,"p":18460},{"s":"MA10","n":260.1,"p":18437},{"s":"MA10","n":263.2,"p":18399},{"s":"MA10","n":266.6,"p":18366},{"s":"MA10","n":271,"p":18364},{"s":"MA10","n":276.2,"p":18308},{"s":"MA10","n":279.4,"p":18249},{"s":"MA10","n":281.5,"p":18258},{"s":"MA10","n":285.9,"p":18167},{"s":"MA10","n":291.1,"p":18096},{"s":"MA10","n":295.3,"p":18190},{"s":"MA10","n":301.6,"p":18232},{"s":"MA10","n":306.8,"p":18171},{"s":"MA10","n":312,"p":18190},{"s":"MA10","n":317.2,"p":18261},{"s":"MA10","n":320.6,"p":18296},{"s":"MA10","n":324,"p":18394},{"s":"MA10","n":327.7,"p":18519},{"s":"MA10","n":331.1,"p":18613},{"s":"MA10","n":335.5,"p":18620},{"s":"MA10","n":339.7,"p":18587},{"s":"MA10","n":343.3,"p":18559},{"s":"MA10","n":345.9,"p":18564},
{"s":"MA20","n":0,"p":17998},{"s":"MA20","n":2.5,"p":18005},{"s":"MA20","n":5.8,"p":18007},{"s":"MA20","n":8.4,"p":17979},{"s":"MA20","n":11.1,"p":17941},{"s":"MA20","n":14.7,"p":17873},{"s":"MA20","n":18.1,"p":17812},{"s":"MA20","n":21.5,"p":17777},{"s":"MA20","n":25.1,"p":17758},{"s":"MA20","n":28,"p":17756},{"s":"MA20","n":31.9,"p":17801},{"s":"MA20","n":35.6,"p":17826},{"s":"MA20","n":40.8,"p":17878},{"s":"MA20","n":44.7,"p":17916},{"s":"MA20","n":48.6,"p":17911},{"s":"MA20","n":52.8,"p":17878},{"s":"MA20","n":55.1,"p":17871},{"s":"MA20","n":59.8,"p":17836},{"s":"MA20","n":65,"p":17761},{"s":"MA20","n":68.4,"p":17718},{"s":"MA20","n":75.5,"p":17648},{"s":"MA20","n":79.9,"p":17585},{"s":"MA20","n":82.8,"p":17561},{"s":"MA20","n":85.9,"p":17578},{"s":"MA20","n":88.5,"p":17615},{"s":"MA20","n":96.3,"p":17784},{"s":"MA20","n":102.3,"p":17948},{"s":"MA20","n":106.8,"p":18000},{"s":"MA20","n":111.2,"p":18009},{"s":"MA20","n":115.4,"p":18002},{"s":"MA20","n":119.8,"p":17991},{"s":"MA20","n":124.2,"p":17974},{"s":"MA20","n":128.4,"p":17981},{"s":"MA20","n":134.6,"p":17988},{"s":"MA20","n":139.9,"p":17977},{"s":"MA20","n":145,"p":17965},{"s":"MA20","n":150.4,"p":17932},{"s":"MA20","n":154.5,"p":17941},{"s":"MA20","n":159.7,"p":17979},{"s":"MA20","n":162.3,"p":17991},{"s":"MA20","n":166,"p":18059},{"s":"MA20","n":170.2,"p":18176},{"s":"MA20","n":172.8,"p":18218},{"s":"MA20","n":174.6,"p":18237},{"s":"MA20","n":177.2,"p":18265},{"s":"MA20","n":179.8,"p":18282},{"s":"MA20","n":182.9,"p":18293},{"s":"MA20","n":186.8,"p":18258},{"s":"MA20","n":191,"p":18171},{"s":"MA20","n":195.4,"p":18089},{"s":"MA20","n":199.9,"p":18047},{"s":"MA20","n":203.3,"p":18019},{"s":"MA20","n":207.2,"p":17998},{"s":"MA20","n":211.1,"p":18038},{"s":"MA20","n":214.5,"p":18101},{"s":"MA20","n":218.9,"p":18211},{"s":"MA20","n":224.1,"p":18336},{"s":"MA20","n":226.7,"p":18383},{"s":"MA20","n":230.7,"p":18401},{"s":"MA20","n":235.1,"p":18387},{"s":"MA20","n":239.8,"p":18312},{"s":"MA20","n":243.2,"p":18272},{"s":"MA20","n":246.8,"p":18268},{"s":"MA20","n":252.8,"p":18329},{"s":"MA20","n":257.2,"p":18387},{"s":"MA20","n":261.4,"p":18399},{"s":"MA20","n":263.2,"p":18405},{"s":"MA20","n":266.6,"p":18416},{"s":"MA20","n":269.8,"p":18411},{"s":"MA20","n":273.7,"p":18371},{"s":"MA20","n":277.1,"p":18329},{"s":"MA20","n":281,"p":18308},{"s":"MA20","n":288.6,"p":18200},{"s":"MA20","n":292.7,"p":18171},{"s":"MA20","n":298,"p":18176},{"s":"MA20","n":301.6,"p":18164},{"s":"MA20","n":306.8,"p":18190},{"s":"MA20","n":311,"p":18216},{"s":"MA20","n":315.5,"p":18214},{"s":"MA20","n":320,"p":18225},{"s":"MA20","n":324,"p":18301},{"s":"MA20","n":327.7,"p":18387},{"s":"MA20","n":330.3,"p":18448},{"s":"MA20","n":333.7,"p":18495},{"s":"MA20","n":337,"p":18554},{"s":"MA20","n":339.7,"p":18589},{"s":"MA20","n":345.9,"p":18589},
{"s":"MA50","n":0,"p":17864},{"s":"MA50","n":5.8,"p":17902},{"s":"MA50","n":9.5,"p":17911},{"s":"MA50","n":12.9,"p":17906},{"s":"MA50","n":18.1,"p":17890},{"s":"MA50","n":25.9,"p":17883},{"s":"MA50","n":33,"p":17885},{"s":"MA50","n":38.2,"p":17876},{"s":"MA50","n":44.2,"p":17869},{"s":"MA50","n":49.4,"p":17845},{"s":"MA50","n":56.4,"p":17822},{"s":"MA50","n":66.9,"p":17822},{"s":"MA50","n":73.6,"p":17791},{"s":"MA50","n":79.9,"p":17749},{"s":"MA50","n":83.3,"p":17725},{"s":"MA50","n":88.5,"p":17716},{"s":"MA50","n":93.7,"p":17711},{"s":"MA50","n":97.4,"p":17733},{"s":"MA50","n":108.6,"p":17784},{"s":"MA50","n":112,"p":17796},{"s":"MA50","n":119,"p":17855},{"s":"MA50","n":127.6,"p":17925},{"s":"MA50","n":132.9,"p":17977},{"s":"MA50","n":137.3,"p":17988},{"s":"MA50","n":141.5,"p":17991},{"s":"MA50","n":149.3,"p":17967},{"s":"MA50","n":153.7,"p":17965},{"s":"MA50","n":158.2,"p":17977},{"s":"MA50","n":163.4,"p":17991},{"s":"MA50","n":169.4,"p":18031},{"s":"MA50","n":177.2,"p":18089},{"s":"MA50","n":183.2,"p":18117},{"s":"MA50","n":186.8,"p":18122},{"s":"MA50","n":192.8,"p":18127},{"s":"MA50","n":199.9,"p":18148},{"s":"MA50","n":202.5,"p":18150},{"s":"MA50","n":208.4,"p":18136},{"s":"MA50","n":213.7,"p":18148},{"s":"MA50","n":222.3,"p":18181},{"s":"MA50","n":233.8,"p":18190},{"s":"MA50","n":237.2,"p":18200},{"s":"MA50","n":246.8,"p":18270},{"s":"MA50","n":252.8,"p":18312},{"s":"MA50","n":257.2,"p":18354},{"s":"MA50","n":265.8,"p":18371},{"s":"MA50","n":269.2,"p":18362},{"s":"MA50","n":271.8,"p":18340},{"s":"MA50","n":281.5,"p":18331},{"s":"MA50","n":291.9,"p":18298},{"s":"MA50","n":297.7,"p":18293},{"s":"MA50","n":306.8,"p":18237},{"s":"MA50","n":318.8,"p":18209},{"s":"MA50","n":324,"p":18230},{"s":"MA50","n":330.3,"p":18277},{"s":"MA50","n":335.5,"p":18340},{"s":"MA50","n":340.8,"p":18387},{"s":"MA50","n":345.9,"p":18411},
{"s":"MA200","n":0,"p":17627},{"s":"MA200","n":5.1,"p":17650},{"s":"MA200","n":10.3,"p":17662},{"s":"MA200","n":18.1,"p":17671},{"s":"MA200","n":23.3,"p":17681},{"s":"MA200","n":31.1,"p":17695},{"s":"MA200","n":41.6,"p":17709},{"s":"MA200","n":49.4,"p":17716},{"s":"MA200","n":59.8,"p":17723},{"s":"MA200","n":70.3,"p":17728},{"s":"MA200","n":80.7,"p":17723},{"s":"MA200","n":87.2,"p":17718},{"s":"MA200","n":96.3,"p":17737},{"s":"MA200","n":104.2,"p":17775},{"s":"MA200","n":112,"p":17798},{"s":"MA200","n":119.8,"p":17817},{"s":"MA200","n":127.6,"p":17829},{"s":"MA200","n":138.1,"p":17843},{"s":"MA200","n":148.5,"p":17859},{"s":"MA200","n":159,"p":17880},{"s":"MA200","n":169.4,"p":17904},{"s":"MA200","n":179.8,"p":17923},{"s":"MA200","n":187.6,"p":17927},{"s":"MA200","n":198,"p":17923},{"s":"MA200","n":208.4,"p":17930},{"s":"MA200","n":216.3,"p":17960},{"s":"MA200","n":224.1,"p":17984},{"s":"MA200","n":231.9,"p":17998},{"s":"MA200","n":245,"p":18019},{"s":"MA200","n":258,"p":18061},{"s":"MA200","n":267.7,"p":18106},{"s":"MA200","n":281.5,"p":18150},{"s":"MA200","n":289.3,"p":18160},{"s":"MA200","n":299.8,"p":18169},{"s":"MA200","n":308.4,"p":18178},{"s":"MA200","n":320,"p":18195},{"s":"MA200","n":329.2,"p":18225},{"s":"MA200","n":337,"p":18249},{"s":"MA200","n":345.9,"p":18276}],
"draw":[{"id":"last","k":"price","n":-0.16,"p":18563.75},{"id":"last","k":"price","n":372,"p":18563.75},{"id":"top","k":"price","n":215.5,"p":18689},{"id":"top","k":"price","n":323,"p":18689},{"id":"up","k":"trend","n":189.7,"p":17833},{"id":"up","k":"trend","n":356.6,"p":18608},{"id":"down1","k":"trend","n":331.9,"p":18707},{"id":"down1","k":"trend","n":361.6,"p":18519},{"id":"down2","k":"trend","n":327.1,"p":18594},{"id":"down2","k":"trend","n":355.6,"p":18411}],
"tags":[{"t":"18589.22","k":"red","i":"w","p":18761.7,"p1":18781.7,"p2":18741.7,"n":371.2,"n2":387.3,"m":379.2},{"t":"18589.22","k":"red","i":"w","p":18721.8,"p1":18741.8,"p2":18701.8,"n":371.2,"n2":387.3,"m":379.2},{"t":"18569.60","k":"yellow","i":"b","p":18681.9,"p1":18701.9,"p2":18661.9,"n":371.2,"n2":387.3,"m":379.2},{"t":"18564.22","k":"green","i":"w","p":18642,"p1":18662,"p2":18622,"n":371.2,"n2":387.3,"m":379.2},{"t":"18564.22","k":"green","i":"w","p":18602.1,"p1":18622.1,"p2":18582.1,"n":371.2,"n2":387.3,"m":379.2},{"t":"18563.75","k":"black","i":"w","p":18562.2,"p1":18582.2,"p2":18542.2,"n":371.2,"n2":387.3,"m":379.2},{"t":"18411.13","k":"blue","i":"w","p":18409.6,"p1":18429.6,"p2":18389.6,"n":371.2,"n2":387.3,"m":379.2},{"t":"18411.13","k":"blue","i":"w","p":18369.7,"p1":18389.7,"p2":18349.7,"n":371.2,"n2":387.3,"m":379.2},{"t":"18276.00","k":"black","i":"w","p":18273.5,"p1":18293.5,"p2":18253.5,"n":371.2,"n2":387.3,"m":379.2},{"t":"18276.00","k":"black","i":"w","p":18233.6,"p1":18253.6,"p2":18213.6,"n":371.2,"n2":387.3,"m":379.2},{"t":"997.229M","k":"orange","i":"b","p":16979.5,"p1":16999.5,"p2":16959.5,"n":371.2,"n2":388.4,"m":379.8},{"t":"253.397M","k":"gray","i":"b","p":16939.6,"p1":16959.6,"p2":16919.6,"n":371.2,"n2":388.4,"m":379.8}],
"headline":[{"t":"Caprison 이 TradingView.com, 3월 23, 2024 22:15 UTC+9 에 퍼블리쉬했음","n":-0.16,"p":18901.6}],
"notes":[{"t":"나스닥 100 이미니 선물, 2시간, CME","n":1.9,"p":18835.8},{"t":"시18572.00","n":54.6,"p":18835.8},{"t":"고18577.00","n":72.6,"p":18835.8},{"t":"저18555.00","n":89.8,"p":18835.8},{"t":"종18563.75","n":107.5,"p":18835.8},{"t":"−8.25 (−0.04%)","n":125.3,"p":18835.8},{"t":"SMA20to200 (10, close, 20, close, 50, close, 200, close)","n":1.9,"p":18795.9},{"t":"ADR Percent (top, right, 20)","n":1.9,"p":18756},{"t":"MA Ribbon (SMA, close, 5, SMA, close, 50, SMA, close, 100, SMA, close, 200)","n":1.9,"p":18717.2},{"t":"∅  ∅  ∅","n":124.7,"p":18717.2},{"t":"SMA20to200 (10, close, 20, close, 50, close, 200, close)","n":1.9,"p":18676.1},{"t":"TDV (20)","n":1.9,"p":17203.7},{"t":"USD","n":374.6,"p":18831}],
"values":[{"t":"18276.00","k":"text","n":81.7,"p":18795.9},{"t":"18411.13","k":"blue","n":96.3,"p":18795.9},{"t":"18589.22","k":"red","n":110.9,"p":18795.9},{"t":"18564.22","k":"green","n":125.5,"p":18795.9},{"t":"18569.60","k":"yellow","n":110.5,"p":18717.2},{"t":"18276.00","k":"text","n":81.7,"p":18676.1},{"t":"18411.13","k":"blue","n":96.3,"p":18676.1},{"t":"18589.22","k":"red","n":110.9,"p":18676.1},{"t":"18564.22","k":"green","n":125.5,"p":18676.1},{"t":"253.397M","k":"gray","n":15.9,"p":17203.7},{"t":"997.229M","k":"orange","n":31.3,"p":17203.7}],
"adr":[{"n":354,"n2":368.4,"p":18845.2,"p2":18744.2}],
"adrtext":[{"t":"ADR","n":361.3,"p":18814.7},{"t":"1.42 %","n":361.3,"p":18781.8}],
"usd":[{"n":372.2,"n2":389.9,"p":18861.6,"p2":18800.6}],
"frame":[{"n":-0.16,"n2":391,"p":18871,"p2":16832.7}],
"sep":[{"n":-0.16,"n2":391,"p":17239}],
"brand":[{"t":"TradingView","n":5.84,"p":16790.4}],
"logo":[{"t":"17","n":-0.1,"p":16790.4}],
"icons":[{"n":215.8,"p":17268,"k":"split"},{"n":345.9,"p":17268,"k":"earn"}]
},
"encoding":{"x":{"field":"n","type":"quantitative","scale":{"domain":[-2.764,393.59],"nice":false,"zero":false,"padding":0},"axis":{"orient":"bottom","offset":-65,"labelPadding":9,"labelFontSize":11.6,"labelFont":"Roboto","labelColor":"#131722","values":[22.7,50.4,80.4,108.2,131,151.9,175.8,199.6,227.5,248.3,287.2,308,346.6,367.5],"labelExpr":"['15','19','22','26','06:00','3월','5','7','11','13','18','20','25','27'][indexof([22.7,50.4,80.4,108.2,131,151.9,175.8,199.6,227.5,248.3,287.2,308,346.6,367.5],datum.value)]"}}},
"resolve":{"scale":{"y":"independent"},"axis":{"y":"independent"}},
"layer":[
{"encoding":{"y":{"field":"v","type":"quantitative","scale":{"domain":[-3.26,37.22],"nice":false,"zero":false},"axis":{"title":null,"orient":"right","offset":-77,"labelPadding":0,"values":[0,2,4],"labelExpr":"datum.value+' B'","labelFontSize":11.6,"labelFont":"Roboto","labelColor":"#131722"}}},
"layer":[
{"data":{"name":"gridv"},"mark":{"type":"rule","color":"#f0f3fa","strokeWidth":1},"encoding":{"y2":{"field":"v2"}}},
{"data":{"name":"gridvol"},"mark":{"type":"rule","color":"#f0f3fa","strokeWidth":1},"encoding":{"x2":{"field":"n2"}}},
{"data":{"name":"vol"},"mark":{"type":"bar","size":2},"encoding":{"y2":{"datum":0},"fill":{"condition":{"test":"datum.u==1","value":"#000000"},"value":"#9598a1"}}},
{"data":{"name":"volma"},"mark":{"type":"line","color":"#ff9800","strokeWidth":1.3},"encoding":{}}
]},
{"encoding":{"y":{"field":"p","type":"quantitative","scale":{"domain":[16748.2,18934.4],"nice":false,"zero":false},"axis":{"title":null,"orient":"right","offset":-77,"labelPadding":0,"values":[17300,17400,17500,17600,17700,17800,17900,18000,18100,18200,18300,18400,18500,18600,18700,18800],"format":".2f","labelFontSize":11.6,"labelFont":"Roboto","labelColor":"#131722","labelOverlap":false}}},
"resolve":{"scale":{"color":"independent"}},
"layer":[
{"data":{"name":"gridp"},"mark":{"type":"rule","color":"#f0f3fa","strokeWidth":1},"encoding":{"x2":{"field":"n2"}}},
{"data":{"name":"frame"},"mark":{"type":"rect","fill":null,"stroke":"#e0e3eb","strokeWidth":2},"encoding":{"x2":{"field":"n2"},"y2":{"field":"p2"}}},
{"data":{"name":"sep"},"mark":{"type":"rule","color":"#e0e3eb","strokeWidth":1.5},"encoding":{"x2":{"field":"n2"}}},
{"data":{"name":"candles"},"mark":{"type":"rule","color":"#000000","strokeWidth":1},"encoding":{"y":{"field":"l","type":"quantitative"},"y2":{"field":"h"}}},
{"data":{"name":"candles"},"mark":{"type":"bar","size":2.8,"stroke":"#000000","strokeWidth":0.9},"encoding":{"y":{"field":"o","type":"quantitative"},"y2":{"field":"c"},"fill":{"condition":{"test":"datum.c>=datum.o","value":"#000000"},"value":"#ffffff"}}},
{"data":{"name":"draw"},"mark":{"type":"line","strokeWidth":1.1,"strokeDash":[1.5,2]},"encoding":{"detail":{"field":"id"},"color":{"field":"k","type":"nominal","scale":{"domain":["price","trend"],"range":["#131722","#444444"]},"legend":null}}},
{"data":{"name":"ma"},"transform":[{"filter":"datum.s=='MA200'"}],"mark":{"type":"line","interpolate":"monotone","color":"#222222","strokeWidth":1.7},"encoding":{}},
{"data":{"name":"ma"},"transform":[{"filter":"datum.s=='MA50'"}],"mark":{"type":"line","interpolate":"monotone","color":"#2962ff","strokeWidth":1.5},"encoding":{}},
{"data":{"name":"ma"},"transform":[{"filter":"datum.s=='MA5'"}],"mark":{"type":"line","interpolate":"monotone","color":"#fbc02d","strokeWidth":1.2},"encoding":{}},
{"data":{"name":"ma"},"transform":[{"filter":"datum.s=='MA10'"}],"mark":{"type":"line","interpolate":"monotone","color":"#4caf50","strokeWidth":1.5},"encoding":{}},
{"data":{"name":"ma"},"transform":[{"filter":"datum.s=='MA20'"}],"mark":{"type":"line","interpolate":"monotone","color":"#ff0000","strokeWidth":2.8},"encoding":{}},
{"data":{"name":"icons"},"mark":{"type":"point","filled":true,"fill":"#ffffff","size":340,"strokeWidth":1.8},"encoding":{"stroke":{"field":"k","type":"nominal","scale":{"domain":["split","earn"],"range":["#6f2dd6","#9c27b0"]},"legend":null}}},
{"data":{"name":"icons"},"transform":[{"filter":"datum.k=='earn'"}],"mark":{"type":"point","filled":true,"fill":"#9c27b0","size":90,"shape":"M0.2,-1 L-0.6,0.2 L-0.05,0.2 L-0.2,1 L0.6,-0.2 L0.05,-0.2 Z"},"encoding":{}},
{"data":{"name":"icons"},"transform":[{"filter":"datum.k=='split'"}],"mark":{"type":"point","filled":false,"stroke":"#6f2dd6","strokeWidth":1.5,"size":70,"shape":"M-0.9,-0.8 L-0.1,0 L-0.9,0.8 M0,-0.8 L0.8,0 L0,0.8"},"encoding":{}},
{"data":{"name":"adr"},"mark":{"type":"rect","fill":"#d4ede9"},"encoding":{"x2":{"field":"n2"},"y2":{"field":"p2"}}},
{"data":{"name":"adrtext"},"mark":{"type":"text","color":"#26a69a","fontSize":13.5,"font":"Roboto","align":"center","baseline":"middle"},"encoding":{"text":{"field":"t"}}},
{"data":{"name":"usd"},"mark":{"type":"rect","fill":"#ffffff","stroke":"#e0e3eb","strokeWidth":1.5,"cornerRadius":4},"encoding":{"x2":{"field":"n2"},"y2":{"field":"p2"}}},
{"data":{"name":"tags"},"mark":{"type":"rect"},"encoding":{"x2":{"field":"n2"},"y":{"field":"p1","type":"quantitative"},"y2":{"field":"p2"},"fill":{"field":"k","type":"nominal","scale":{"domain":["red","yellow","green","black","blue","orange","gray"],"range":["#ff0000","#f7bd00","#4caf50","#000000","#2962ff","#ff9800","#9598a1"]},"legend":null}}},
{"data":{"name":"tags"},"mark":{"type":"text","fontSize":11.6,"font":"Roboto","fontWeight":500,"align":"center","baseline":"middle","dy":0.7},"encoding":{"x":{"field":"m","type":"quantitative"},"text":{"field":"t"},"color":{"field":"i","type":"nominal","scale":{"domain":["w","b"],"range":["#ffffff","#131722"]},"legend":null}}},
{"data":{"name":"headline"},"mark":{"type":"text","fontSize":12.3,"font":"Roboto, Noto Sans CJK KR","align":"left","baseline":"middle","color":"#131722","dy":0.7},"encoding":{"text":{"field":"t"}}},
{"data":{"name":"notes"},"mark":{"type":"text","fontSize":12.1,"font":"Roboto, Noto Sans CJK KR","align":"left","baseline":"middle","color":"#131722","dy":0.7},"encoding":{"text":{"field":"t"}}},
{"data":{"name":"values"},"mark":{"type":"text","fontSize":11.6,"font":"Roboto","align":"left","baseline":"middle","dy":0.7},"encoding":{"text":{"field":"t"},"color":{"field":"k","type":"nominal","scale":{"domain":["text","blue","red","green","yellow","gray","orange"],"range":["#131722","#2962ff","#ff0000","#4caf50","#f7bd00","#9598a1","#ff9800"]},"legend":null}}},
{"data":{"name":"brand"},"mark":{"type":"text","fontSize":13,"font":"Roboto","align":"left","baseline":"middle","color":"#4a4e59"},"encoding":{"text":{"field":"t"}}},
{"data":{"name":"logo"},"mark":{"type":"text","fontSize":15,"fontWeight":"bold","font":"Roboto","align":"left","baseline":"middle","color":"#131722"},"encoding":{"text":{"field":"t"}}}
]}
]}
